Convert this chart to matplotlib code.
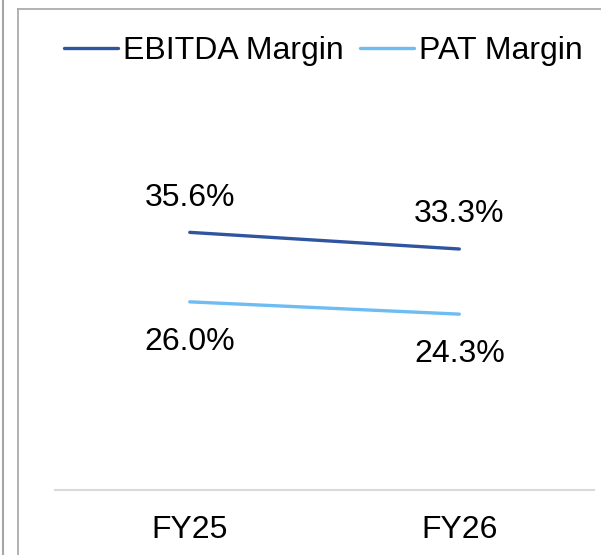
import matplotlib
import matplotlib.pyplot as plt
from matplotlib.lines import Line2D

matplotlib.rcParams["font.family"] = ["Liberation Sans", "DejaVu Sans"]
matplotlib.rcParams["font.size"] = 23

years = ["FY25", "FY26"]
ebitda_margin = [35.6, 33.3]
pat_margin = [26.0, 24.3]

series_names = ["EBITDA Margin", "PAT Margin"]
colors = ["#2F55A0", "#6DBDF2"]

fig = plt.figure(figsize=(6.01, 5.55), dpi=100)
ax = fig.add_axes([0.0915, 0.1171, 0.897, 0.652])

x = range(len(years))
ax.plot(x, ebitda_margin, color=colors[0], linewidth=2.4,
        solid_capstyle="round", label=series_names[0])
ax.plot(x, pat_margin, color=colors[1], linewidth=2.4,
        solid_capstyle="round", label=series_names[1])

for i, v in enumerate(ebitda_margin):
    ax.annotate(f"{v:.1f}%", (i, v), xytext=(0, 25), textcoords="offset points",
                ha="center", va="center")
for i, v in enumerate(pat_margin):
    ax.annotate(f"{v:.1f}%", (i, v), xytext=(0, -29), textcoords="offset points",
                ha="center", va="center")

ax.set_xlim(-0.5, 1.5)
ax.set_ylim(0, 50)
ax.set_xticks(list(x))
ax.set_xticklabels(years)
ax.set_yticks([])
ax.tick_params(axis="x", length=0, pad=18)

for side in ["top", "right", "left"]:
    ax.spines[side].set_visible(False)
ax.spines["bottom"].set_color("#D9D9D9")
ax.spines["bottom"].set_linewidth(1.5)

fig.legend(
    loc="center left",
    bbox_to_anchor=(0.106, 0.908),
    ncol=2,
    frameon=False,
    handlelength=1.7,
    handletextpad=0.16,
    columnspacing=0.5,
    borderpad=0,
    borderaxespad=0,
)

# outer frame lines
W, H = 601, 555
fig.add_artist(Line2D([3 / W, 3 / W], [0, 1], color="#A6A6A6", linewidth=1.5))
fig.add_artist(Line2D([18 / W, 18 / W], [0, 1 - 9 / H], color="#A6A6A6", linewidth=1.2))
fig.add_artist(Line2D([18 / W, 1], [1 - 9 / H, 1 - 9 / H], color="#A6A6A6", linewidth=1.2))

fig.savefig("out.png", dpi=100)
